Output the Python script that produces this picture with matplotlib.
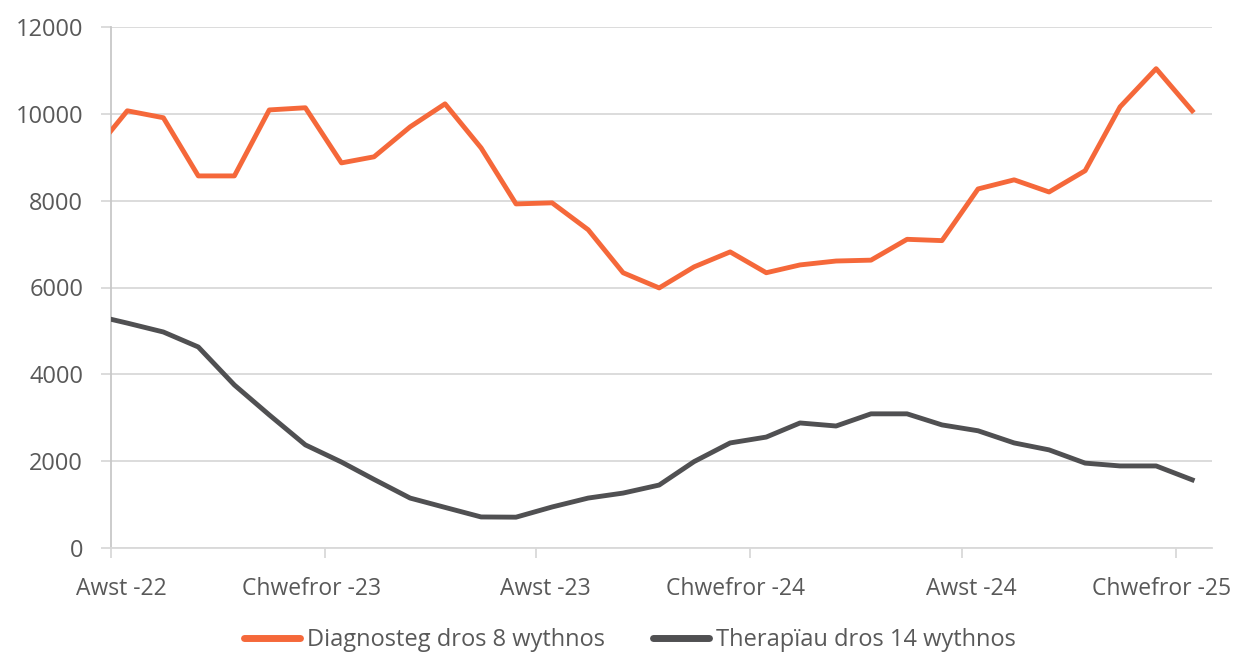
import matplotlib
matplotlib.use("Agg")
import matplotlib.pyplot as plt
import matplotlib.transforms as mtransforms
from matplotlib.lines import Line2D
import datetime as dt

plt.rcParams['font.family'] = ['Open Sans', 'DejaVu Sans']

# ---- data ----
months = [dt.date(2022 + (6 + i) // 12, (6 + i) % 12 + 1, 15) for i in range(32)]  # Jul-22 .. Feb-25 (mid-month)
diagnostic = [9050, 10070, 9910, 8570, 8570, 10090, 10140, 8870, 9010, 9700, 10230, 9215,
              7925, 7950, 7330, 6340, 5990, 6475, 6820, 6340, 6520, 6610, 6630, 7110,
              7080, 8270, 8480, 8200, 8690, 10160, 11040, 10070]
therapy = [5375, 5180, 4975, 4630, 3755, 3065, 2375, 1980, 1580, 1150, 935, 715,
           710, 945, 1150, 1265, 1450, 1990, 2420, 2555, 2880, 2810, 3090, 3090,
           2835, 2700, 2420, 2260, 1955, 1890, 1890, 1570]
series_names = ["Diagnosteg dros 8 wythnos", "Therapïau dros 14 wythnos"]
tick_dates = [dt.date(2022, 8, 1), dt.date(2023, 2, 1), dt.date(2023, 8, 1),
              dt.date(2024, 2, 1), dt.date(2024, 8, 1), dt.date(2025, 2, 1)]
tick_labels = ["Awst -22", "Chwefror -23", "Awst -23", "Chwefror -24", "Awst -24", "Chwefror -25"]
y_ticks = [0, 2000, 4000, 6000, 8000, 10000, 12000]

# ---- figure ----
W, H = 1237, 654
fig = plt.figure(figsize=(W / 100, H / 100), dpi=100)
ax = fig.add_axes([111 / W, 1 - 548 / H, (1212 - 111) / W, (548 - 27) / H])

orange = "#F5683A"
grey = "#505052"
ax.plot(months, diagnostic, color=orange, lw=3.5, solid_joinstyle='round', zorder=3)
ax.plot(months, therapy, color=grey, lw=3.5, solid_joinstyle='round', zorder=3)

ax.set_xlim(dt.date(2022, 8, 1), dt.date(2025, 3, 4))
ax.set_ylim(0, 12000)
ax.set_yticks(y_ticks)
ax.set_yticklabels([str(v) for v in y_ticks])
ax.set_xticks(tick_dates)
ax.set_xticklabels(tick_labels)

ax.grid(axis='y', color='#d9d9d9', lw=1.3)
ax.set_axisbelow(True)
for s in ['top', 'right']:
    ax.spines[s].set_visible(False)
ax.spines['left'].set_color('#c8c8c8')
ax.spines['bottom'].set_color('#d9d9d9')
ax.spines['left'].set_linewidth(1.3)
ax.spines['bottom'].set_linewidth(1.3)

text_color = '#595959'
ax.tick_params(axis='y', length=7, width=1.3, color='#d9d9d9', labelsize=17,
               labelcolor=text_color, pad=13)
ax.tick_params(axis='x', length=7, width=1.3, color='#d9d9d9', labelsize=16.5,
               labelcolor=text_color, pad=14)

# shift x labels to match reference placement
offsets = [10, -14, 10, -14, 10, -14]
for lab, off in zip(ax.get_xticklabels(), offsets):
    lab.set_transform(lab.get_transform() + mtransforms.ScaledTranslation(off / 100, 0, fig.dpi_scale_trans))

handles = [Line2D([], [], color=orange, lw=5, solid_capstyle='round'),
           Line2D([], [], color=grey, lw=5, solid_capstyle='round')]
leg = fig.legend(handles, series_names, loc='center', bbox_to_anchor=(630 / W, 1 - 640 / H),
                 ncol=2, frameon=False, fontsize=17, handlelength=2.4, handletextpad=0.3,
                 columnspacing=2.0, labelcolor=text_color)

fig.savefig("out.png", dpi=100, facecolor='white')
